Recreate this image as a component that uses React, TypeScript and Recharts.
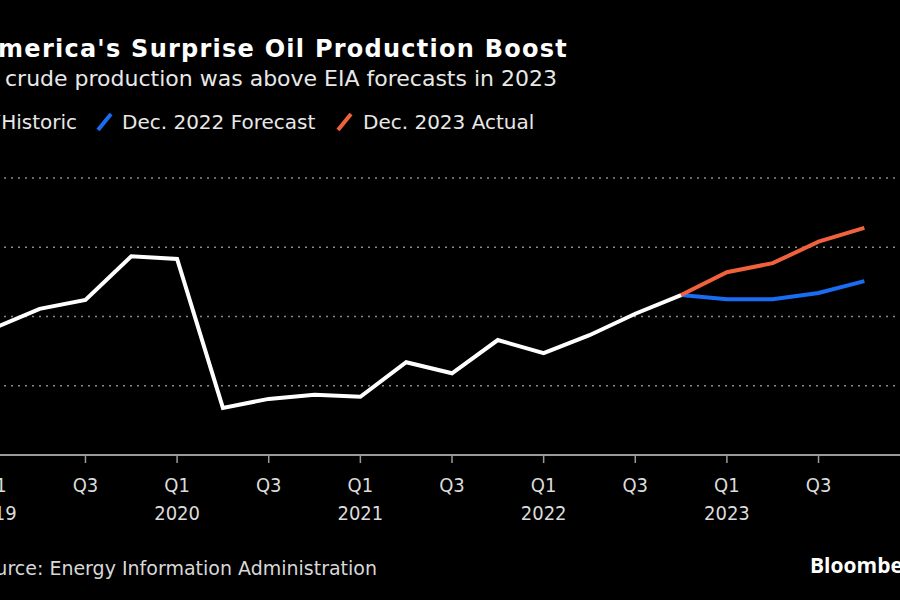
import React from 'react';
import { LineChart, Line, XAxis, YAxis, CartesianGrid } from 'recharts';

const quarters = [
  'Q1 2019', 'Q2 2019', 'Q3 2019', 'Q4 2019',
  'Q1 2020', 'Q2 2020', 'Q3 2020', 'Q4 2020',
  'Q1 2021', 'Q2 2021', 'Q3 2021', 'Q4 2021',
  'Q1 2022', 'Q2 2022', 'Q3 2022', 'Q4 2022',
  'Q1 2023', 'Q2 2023', 'Q3 2023', 'Q4 2023',
];
const historic = [11.83, 12.11, 12.24, 12.87, 12.83, 10.68, 10.81, 10.87, 10.84, 11.34, 11.18, 11.66, 11.47, 11.73, 12.04, 12.31, null, null, null, null];
const forecast2022 = [null, null, null, null, null, null, null, null, null, null, null, null, null, null, null, 12.31, 12.25, 12.25, 12.34, 12.51];
const actual2023 = [null, null, null, null, null, null, null, null, null, null, null, null, null, null, null, 12.31, 12.64, 12.77, 13.08, 13.28];
const yTicks = [10, 11, 12, 13, 14];
const xTicks = [0, 2, 4, 6, 8, 10, 12, 14, 16, 18];

const data = quarters.map((q, i) => ({
  idx: i,
  label: q,
  historic: historic[i],
  forecast: forecast2022[i],
  actual: actual2023[i],
}));

const CHART_LEFT = -60;
const COND = "'DejaVu Sans Condensed', 'DejaVu Sans', sans-serif";
const REG = "'DejaVu Sans', sans-serif";

const XTick = (props: any) => {
  const { x, payload } = props;
  const i = payload.value as number;
  const q = quarters[i] ? quarters[i].split(' ') : ['', ''];
  return (
    <g>
      <line x1={x} x2={x} y1={455} y2={463} stroke="#9a9a9a" strokeWidth={1.5} />
      <text x={x} y={492} textAnchor="middle" fill="#dcdcdc" fontSize={20} fontFamily={COND} style={{ fontStretch: 'condensed' }}>{q[0]}</text>
      {q[0] === 'Q1' ? (
        <text x={x} y={520} textAnchor="middle" fill="#dcdcdc" fontSize={20} fontFamily={COND} style={{ fontStretch: 'condensed' }}>{q[1]}</text>
      ) : null}
    </g>
  );
};

const YTick = (props: any) => {
  const { y, payload } = props;
  if (payload.value !== 14) return <g />;
  return (
    <text x={838 - CHART_LEFT} y={y - 14} textAnchor="start" fill="#dcdcdc" fontSize={21} fontFamily={COND} style={{ fontStretch: 'condensed' }}>14m b/d</text>
  );
};

export default function App() {
  return (
    <div style={{ position: 'fixed', left: 0, top: 0, width: 900, height: 600, overflow: 'hidden', background: '#000' }}>
      <div style={{ position: 'absolute', left: CHART_LEFT, top: 0 }}>
        <LineChart width={1030} height={600} data={data} margin={{ top: 178, right: 14, bottom: 85, left: 8 }}>
          <CartesianGrid horizontal vertical={false} stroke="#8a8a8a" strokeWidth={1.5} strokeDasharray="2 5" />
          <XAxis dataKey="idx" type="number" domain={[-1, 21]} ticks={xTicks} allowDataOverflow height={60}
            axisLine={{ stroke: '#9a9a9a', strokeWidth: 2 }} tickLine={false} tick={<XTick />} interval={0} />
          <YAxis orientation="right" type="number" domain={[10, 14]} ticks={yTicks} width={0}
            axisLine={false} tickLine={false} tick={<YTick />} interval={0} />
          <Line type="linear" dataKey="forecast" stroke="#1a6cf2" strokeWidth={4} dot={false} isAnimationActive={false} connectNulls={false} />
          <Line type="linear" dataKey="actual" stroke="#f0623b" strokeWidth={4} dot={false} isAnimationActive={false} connectNulls={false} />
          <Line type="linear" dataKey="historic" stroke="#ffffff" strokeWidth={4} dot={false} isAnimationActive={false} connectNulls={false} />
        </LineChart>
      </div>
      <svg width={900} height={600} style={{ position: 'absolute', left: 0, top: 0, pointerEvents: 'none' }}>
        <text x={568} y={57} textAnchor="end" fill="#ffffff" fontSize={24} fontWeight="bold" letterSpacing={1.25} fontFamily={REG}>America's Surprise Oil Production Boost</text>
        <text x={557} y={86} textAnchor="end" fill="#e8e8e8" fontSize={22} fontFamily={REG}>US crude production was above EIA forecasts in 2023</text>
        <line x1={-14} y1={130} x2={-1} y2={114} stroke="#ffffff" strokeWidth={4} />
        <text x={77} y={129} textAnchor="end" fill="#e8e8e8" fontSize={20} fontFamily={REG}>Historic</text>
        <line x1={98} y1={130} x2={111} y2={114} stroke="#1a6cf2" strokeWidth={4} />
        <text x={122} y={129} textAnchor="start" fill="#e8e8e8" fontSize={20} fontFamily={REG}>Dec. 2022 Forecast</text>
        <line x1={338} y1={130} x2={351} y2={114} stroke="#f0623b" strokeWidth={4} />
        <text x={363} y={129} textAnchor="start" fill="#e8e8e8" fontSize={20} fontFamily={REG}>Dec. 2023 Actual</text>
        <text x={377} y={575} textAnchor="end" fill="#d8d8d8" fontSize={19} fontFamily={REG}>Source: Energy Information Administration</text>
        <text x={810} y={573} textAnchor="start" fill="#ffffff" fontSize={21} fontWeight="bold" fontFamily="'Open Sans', sans-serif">Bloomberg</text>
      </svg>
    </div>
  );
}
